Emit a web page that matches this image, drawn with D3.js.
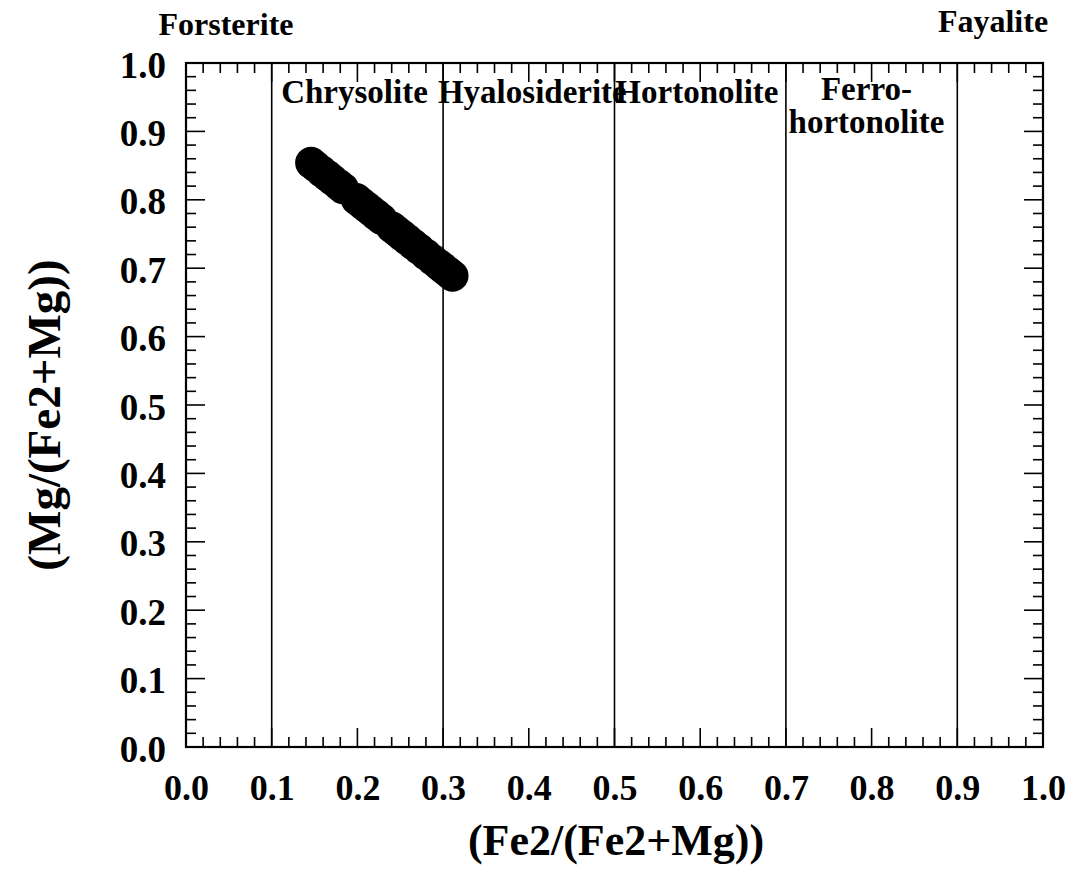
<!DOCTYPE html>
<html>
<head>
<meta charset="utf-8">
<script src="https://cdn.jsdelivr.net/npm/d3@7"></script>
<style>
  html, body { margin: 0; padding: 0; background: #fff; }
  svg { display: block; }
  text { font-family: "Liberation Serif", "Times New Roman", serif; font-weight: bold; fill: #000; }
</style>
</head>
<body>
<svg id="chart" width="1087" height="894"></svg>
<script>
// Olivine analyses: Fe2/(Fe2+Mg) against Mg/(Fe2+Mg)
const feRatio = [0.146, 0.151, 0.158, 0.165, 0.171, 0.178, 0.183, 0.199, 0.205, 0.210,
                 0.216, 0.222, 0.228, 0.240, 0.246, 0.252, 0.258, 0.265, 0.272, 0.280,
                 0.288, 0.295, 0.300, 0.306, 0.311];
const mgRatio = [0.854, 0.849, 0.842, 0.835, 0.829, 0.822, 0.817, 0.801, 0.795, 0.790,
                 0.784, 0.778, 0.772, 0.760, 0.754, 0.748, 0.742, 0.735, 0.728, 0.720,
                 0.712, 0.705, 0.700, 0.694, 0.689];

// Olivine series boundaries and field names (start = left edge of label, in x units)
const boundaries = [0.1, 0.3, 0.5, 0.7, 0.9];
const fieldNames = [
  { x: 0.111, lines: ["Chrysolite"], anchor: "start" },
  { x: 0.294, lines: ["Hyalosiderite"], anchor: "start" },
  { x: 0.501, lines: ["Hortonolite"], anchor: "start" },
  { x: 0.794, lines: ["Ferro-", "hortonolite"], anchor: "middle" }
];
const endMembers = ["Forsterite", "Fayalite"];

const xTicks = [0.0, 0.1, 0.2, 0.3, 0.4, 0.5, 0.6, 0.7, 0.8, 0.9, 1.0];
const yTicks = [0.0, 0.1, 0.2, 0.3, 0.4, 0.5, 0.6, 0.7, 0.8, 0.9, 1.0];
const xTitle = "(Fe2/(Fe2+Mg))";
const yTitle = "(Mg/(Fe2+Mg))";

const svg = d3.select("#chart");
const plotLeft = 186, plotRight = 1043, plotTop = 63, plotBottom = 747;

const x = d3.scaleLinear().domain([0, 1]).range([plotLeft, plotRight]);
const y = d3.scaleLinear().domain([0, 1]).range([plotBottom, plotTop]);

const minorSteps = d3.range(0, 51).map(i => i / 50);
const majorLen = 19, minorLen = 10;

// Frame ticks, pointing inward on all four sides
const tickG = svg.append("g").attr("stroke", "#000").attr("stroke-width", 1.6);
minorSteps.forEach((v, i) => {
  const L = (i % 5 === 0) ? majorLen : minorLen;
  tickG.append("line").attr("x1", x(v)).attr("x2", x(v)).attr("y1", plotBottom).attr("y2", plotBottom - L);
  tickG.append("line").attr("x1", x(v)).attr("x2", x(v)).attr("y1", plotTop).attr("y2", plotTop + L);
  tickG.append("line").attr("y1", y(v)).attr("y2", y(v)).attr("x1", plotLeft).attr("x2", plotLeft + L);
  tickG.append("line").attr("y1", y(v)).attr("y2", y(v)).attr("x1", plotRight).attr("x2", plotRight - L);
});

// Plot frame
svg.append("rect")
  .attr("x", plotLeft).attr("y", plotTop)
  .attr("width", plotRight - plotLeft).attr("height", plotBottom - plotTop)
  .attr("fill", "none").attr("stroke", "#000").attr("stroke-width", 2.2);

// Field boundaries
svg.append("g").selectAll("line").data(boundaries).join("line")
  .attr("x1", d => x(d)).attr("x2", d => x(d))
  .attr("y1", plotTop).attr("y2", plotBottom)
  .attr("stroke", "#000").attr("stroke-width", 1.6);

// Axis labels
const xAxis = d3.axisBottom(x).tickValues(xTicks).tickFormat(d3.format(".1f")).tickSize(0).tickPadding(0);
const gx = svg.append("g").attr("transform", `translate(0,${plotBottom})`).call(xAxis);
gx.select(".domain").remove();
gx.selectAll("text")
  .attr("y", 53).attr("dy", 0)
  .attr("fill", "#000")
  .style("font-size", "36px")
  .style("font-family", "'Liberation Serif', 'Times New Roman', serif")
  .style("font-weight", "bold");

const yAxis = d3.axisLeft(y).tickValues(yTicks).tickFormat(d3.format(".1f")).tickSize(0).tickPadding(0);
const gy = svg.append("g").attr("transform", `translate(${plotLeft},0)`).call(yAxis);
gy.select(".domain").remove();
gy.selectAll("text")
  .attr("x", -20).attr("dy", "0.38em")
  .attr("fill", "#000")
  .style("font-size", "37px")
  .style("font-family", "'Liberation Serif', 'Times New Roman', serif")
  .style("font-weight", "bold");

// Field names
fieldNames.forEach(f => {
  const t = svg.append("text")
    .attr("x", x(f.x))
    .attr("y", f.lines.length > 1 ? 100 : 103)
    .attr("text-anchor", f.anchor)
    .style("font-size", "33px");
  f.lines.forEach((ln, i) => {
    t.append("tspan")
      .attr("x", x(f.x))
      .attr("dy", i === 0 ? 0 : 33)
      .text(ln);
  });
});

// End members above the frame
svg.append("text").attr("x", 226).attr("y", 35).attr("text-anchor", "middle")
  .style("font-size", "32px").text(endMembers[0]);
svg.append("text").attr("x", 993).attr("y", 32).attr("text-anchor", "middle")
  .style("font-size", "32px").text(endMembers[1]);

// Axis titles
svg.append("text").attr("x", 616).attr("y", 855).attr("text-anchor", "middle")
  .style("font-size", "44px").text(xTitle);
svg.append("text").attr("transform", "translate(60,415) rotate(-90)").attr("text-anchor", "middle")
  .style("font-size", "47px").text(yTitle);

// Analyses
svg.append("g").selectAll("circle").data(feRatio).join("circle")
  .attr("cx", d => x(d))
  .attr("cy", (d, i) => y(mgRatio[i]))
  .attr("r", 16)
  .attr("fill", "#000");
</script>
</body>
</html>
